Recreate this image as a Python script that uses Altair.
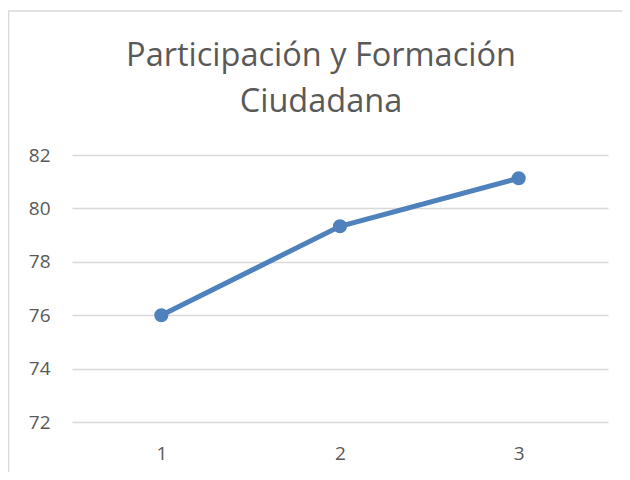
import altair as alt
import pandas as pd

categories = ["1", "2", "3"]
values = [76.0, 79.33, 81.13]
title_lines = ["Participación y Formación", "Ciudadana"]
y_ticks = [72, 74, 76, 78, 80, 82]

df = pd.DataFrame({"cat": categories, "val": values})

text_color = "#595959"
grid_color = "#D9D9D9"
line_color = "#4F81BD"
font = "Open Sans"

frame = alt.Chart(pd.DataFrame({"a": [0]})).mark_rect(
    fill=None, stroke=grid_color, strokeWidth=1.5
).encode(
    x=alt.value(-63.5), x2=alt.value(600),
    y=alt.value(-144), y2=alt.value(400)
)

base = alt.Chart(df).encode(
    x=alt.X("cat:N", sort=categories,
            scale=alt.Scale(paddingOuter=0.5),
            axis=alt.Axis(title=None, labelAngle=0, domain=False, ticks=False,
                          labelPadding=22, labelFontSize=19, labelColor=text_color,
                          labelFont=font, grid=False)),
    y=alt.Y("val:Q", scale=alt.Scale(domain=[72, 82], nice=False, zero=False),
            axis=alt.Axis(title=None, values=y_ticks, domain=False, ticks=False,
                          labelPadding=22, labelFontSize=19, labelColor=text_color,
                          labelFont=font, grid=True, gridColor=grid_color,
                          gridWidth=1.5))
)

line = base.mark_line(color=line_color, strokeWidth=5)
points = base.mark_point(color=line_color, filled=True, opacity=1, size=200)

chart = alt.layer(frame, line, points).properties(
    width=536, height=267,
    background="white",
    title=alt.TitleParams(title_lines, fontSize=32.5, font=font, color=text_color,
                          fontWeight="normal", anchor="middle", dx=-19,
                          offset=-108, lineHeight=46),
    autosize=alt.AutoSizeParams(type="none"),
    padding={"left": 64, "top": 147, "right": 14, "bottom": 50},
).configure_view(strokeWidth=0, stroke=None)

chart.save("out.html", embed_options={"renderer": "svg", "actions": False})
